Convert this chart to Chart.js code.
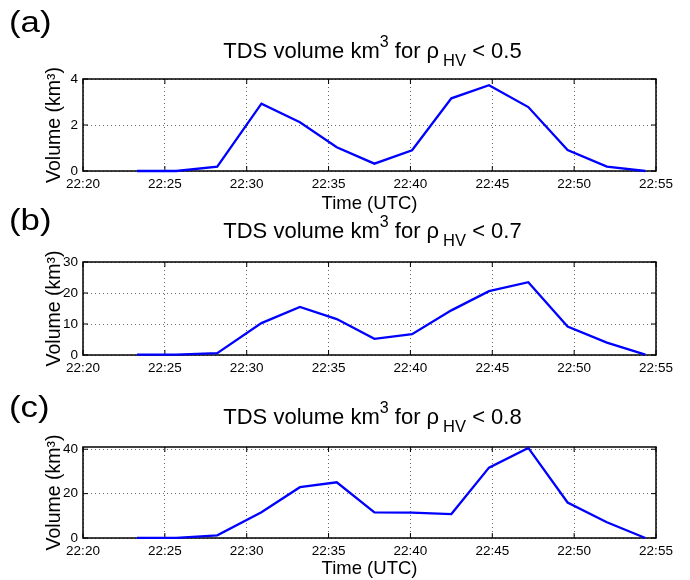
<!DOCTYPE html>
<html><head><meta charset="utf-8">
<script src="https://cdn.jsdelivr.net/npm/chart.js@4.4.0/dist/chart.umd.min.js"></script>
<style>
html,body{margin:0;padding:0;background:#fff;}
#wrap{position:relative;width:690px;height:580px;overflow:hidden;font-family:"Liberation Sans",Arial,Helvetica,sans-serif;color:#000;}
canvas{position:absolute;left:0;}
.ttl{position:absolute;left:86px;width:573px;text-align:center;font-size:22px;line-height:22px;white-space:nowrap;}
.ttl .sp{position:relative;font-size:16px;top:-11px;}
.ttl .sb{position:relative;font-size:16.5px;top:8px;margin-left:4px;}
.pl{position:absolute;left:9px;font-size:29px;line-height:29px;transform:scaleX(1.2);transform-origin:left top;white-space:nowrap;}
</style></head>
<body>
<div id="wrap">
  <canvas id="cA" width="690" height="215" style="top:0px"></canvas>
  <canvas id="cB" width="690" height="175" style="top:215px"></canvas>
  <canvas id="cC" width="690" height="190" style="top:390px"></canvas>
  <div class="pl" style="top:8px">(a)</div>
  <div class="pl" style="top:206px">(b)</div>
  <div class="pl" style="top:393px">(c)</div>
  <div class="ttl" style="top:40px">TDS volume km<span class="sp">3</span> for ρ<span class="sb">HV</span> &lt; 0.5</div>
  <div class="ttl" style="top:220px">TDS volume km<span class="sp">3</span> for ρ<span class="sb">HV</span> &lt; 0.7</div>
  <div class="ttl" style="top:406px">TDS volume km<span class="sp">3</span> for ρ<span class="sb">HV</span> &lt; 0.8</div>
</div>
<script>
// Scan times (UTC)
const scanTimes = ["22:23:18","22:25:42","22:28:12","22:30:54","22:33:15","22:35:30","22:37:48",
                   "22:40:06","22:42:30","22:44:48","22:47:12","22:49:36","22:52:00","22:54:21"];
// TDS volume (km^3) for rhoHV < 0.5, < 0.7, < 0.8
const volume05 = [0, 0, 0.19, 2.93, 2.12, 1.03, 0.32, 0.9, 3.16, 3.73, 2.78, 0.91, 0.19, 0];
const volume07 = [0.1, 0.1, 0.6, 10.3, 15.5, 11.6, 5.2, 6.7, 14.4, 20.6, 23.5, 9.2, 4.0, 0.1];
const volume08 = [0.1, 0.1, 1.2, 11.6, 22.9, 25.1, 11.5, 11.4, 10.8, 31.7, 40.6, 16.0, 7.1, 0];
// Axis tick labels
const xTickLabels = ["22:20","22:25","22:30","22:35","22:40","22:45","22:50","22:55"];
const yTicksA = [0, 2, 4];
const yTicksB = [0, 10, 20, 30];
const yTicksC = [0, 20, 40];

function toMin(s){ const p = s.split(':').map(Number); return (p[0]-22)*60 + p[1] + (p[2]||0)/60; }
const xTickVals = xTickLabels.map(toMin);
const xs = scanTimes.map(toMin);

Chart.defaults.color = '#000';
Chart.defaults.font.family = '"Liberation Sans", Arial, Helvetica, sans-serif';

const framePlugin = {
  id: 'frame',
  beforeDatasetsDraw(chart){
    const {ctx, chartArea:{left,right,top,bottom}, scales:{x,y}} = chart;
    ctx.save();
    ctx.setLineDash([]);
    ctx.strokeStyle = '#000';
    ctx.lineWidth = 1;
    const L = 5;
    ctx.beginPath();
    x.ticks.forEach(t => { const px = x.getPixelForValue(t.value);
      ctx.moveTo(px, bottom); ctx.lineTo(px, bottom - L);
      ctx.moveTo(px, top); ctx.lineTo(px, top + L); });
    y.ticks.forEach(t => { const py = y.getPixelForValue(t.value);
      ctx.moveTo(left, py); ctx.lineTo(left + L, py);
      ctx.moveTo(right, py); ctx.lineTo(right - L, py); });
    ctx.stroke();
    ctx.lineWidth = 1.5;
    ctx.strokeRect(left, top, right - left, bottom - top);
    ctx.restore();
  }
};

function makePanel(id, values, yTicks, yMax, padTop, xHeight, showXTitle){
  const data = xs.map((x, i) => ({x: x, y: values[i]}));
  new Chart(document.getElementById(id), {
    type: 'line',
    data: { datasets: [{ data: data, borderColor: '#0000ff', borderWidth: 2.3, pointRadius: 0, tension: 0, fill: false, clip: false }] },
    plugins: [framePlugin],
    options: {
      responsive: false, animation: false, devicePixelRatio: 1,
      layout: { padding: { top: padTop, right: 34, left: 0, bottom: 0 } },
      plugins: { legend: { display: false }, tooltip: { enabled: false }, title: { display: false } },
      scales: {
        x: {
          type: 'linear', min: xTickVals[0], max: xTickVals[xTickVals.length - 1],
          afterBuildTicks: s => { s.ticks = xTickVals.map(v => ({value: v})); },
          ticks: { padding: 5, maxRotation: 0, autoSkip: false, font: { size: 13.5 },
                   callback: (v) => { const i = xTickVals.indexOf(v); return i >= 0 ? xTickLabels[i] : ''; } },
          grid: { color: 'rgba(0,0,0,0.6)', lineWidth: 1, drawTicks: false, borderDash: [1, 3] },
          border: { display: false, dash: [1, 3] },
          title: { display: showXTitle, text: 'Time (UTC)', font: { size: 18.5 }, padding: { top: 0, bottom: 0 } },
          afterFit: s => { s.height = xHeight; }
        },
        y: {
          type: 'linear', min: 0, max: yMax,
          afterBuildTicks: s => { s.ticks = yTicks.map(v => ({value: v})); },
          ticks: { padding: 5, font: { size: 13.5 } },
          grid: { color: 'rgba(0,0,0,0.6)', lineWidth: 1, drawTicks: false, borderDash: [1, 3] },
          border: { display: false, dash: [1, 3] },
          title: { display: true, text: 'Volume (km³)', font: { size: 19.5 }, padding: { top: 43, bottom: 0 } },
          afterFit: s => { s.width = 83; }
        }
      }
    }
  });
}

makePanel('cA', volume05, yTicksA, 4, 79, 44, true);
makePanel('cB', volume07, yTicksB, 30, 47, 35, false);
makePanel('cC', volume08, yTicksC, 41, 57, 42, true);
</script>
</body></html>
